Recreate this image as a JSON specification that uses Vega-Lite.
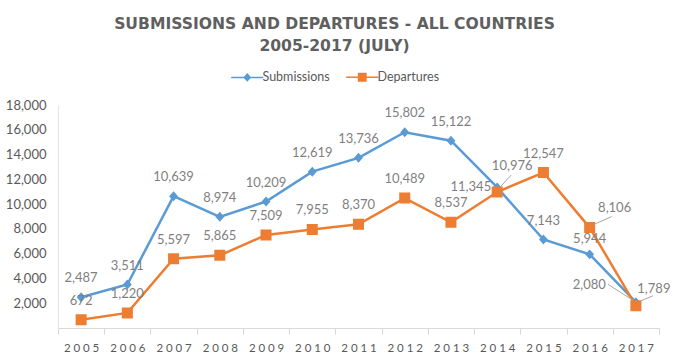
{
  "$schema": "https://vega.github.io/schema/vega-lite/v6.json",
  "width": 601,
  "height": 223,
  "autosize": {"type": "none"},
  "padding": {"left": 58, "top": 105, "right": 14, "bottom": 28},
  "background": "white",
  "title": {
    "text": ["SUBMISSIONS AND DEPARTURES - ALL COUNTRIES", "2005-2017 (JULY)"],
    "font": "DejaVu Sans",
    "fontSize": 15.6,
    "fontWeight": "bold",
    "color": "#5F5F5F",
    "lineHeight": 22.5,
    "anchor": "middle",
    "dx": -24,
    "offset": 16
  },
  "config": {
    "view": {"stroke": null},
    "legend": {
      "title": null,
      "orient": "none",
      "legendX": 183,
      "legendY": -34,
      "direction": "horizontal",
      "labelFont": "Lato",
      "labelFontSize": 12.5,
      "labelColor": "#595959",
      "symbolSize": 49,
      "labelOffset": 9,
      "columnPadding": 13
    }
  },
  "data": {
    "values": [
      {"year": "2005", "series": "Submissions", "value": 2487},
      {"year": "2006", "series": "Submissions", "value": 3511},
      {"year": "2007", "series": "Submissions", "value": 10639},
      {"year": "2008", "series": "Submissions", "value": 8974},
      {"year": "2009", "series": "Submissions", "value": 10209},
      {"year": "2010", "series": "Submissions", "value": 12619},
      {"year": "2011", "series": "Submissions", "value": 13736},
      {"year": "2012", "series": "Submissions", "value": 15802},
      {"year": "2013", "series": "Submissions", "value": 15122},
      {"year": "2014", "series": "Submissions", "value": 11345},
      {"year": "2015", "series": "Submissions", "value": 7143},
      {"year": "2016", "series": "Submissions", "value": 5944},
      {"year": "2017", "series": "Submissions", "value": 2080},
      {"year": "2005", "series": "Departures", "value": 672},
      {"year": "2006", "series": "Departures", "value": 1220},
      {"year": "2007", "series": "Departures", "value": 5597},
      {"year": "2008", "series": "Departures", "value": 5865},
      {"year": "2009", "series": "Departures", "value": 7509},
      {"year": "2010", "series": "Departures", "value": 7955},
      {"year": "2011", "series": "Departures", "value": 8370},
      {"year": "2012", "series": "Departures", "value": 10489},
      {"year": "2013", "series": "Departures", "value": 8537},
      {"year": "2014", "series": "Departures", "value": 10976},
      {"year": "2015", "series": "Departures", "value": 12547},
      {"year": "2016", "series": "Departures", "value": 8106},
      {"year": "2017", "series": "Departures", "value": 1789}
    ]
  },
  "encoding": {
    "x": {
      "field": "year",
      "type": "ordinal",
      "bandPosition": 0.5,
      "scale": {"type": "band", "paddingInner": 0, "paddingOuter": 0},
      "axis": {
        "title": null,
        "labelAngle": 0,
        "domainColor": "#D9D9D9",
        "tickColor": "#D9D9D9",
        "tickSize": 6,
        "tickBand": "extent",
        "labelFont": "Lato",
        "labelFontSize": 11.5,
        "labelColor": "#595959",
        "labelPadding": 8,
        "labelExpr": "join(split(datum.label, ''), '\u2005')"
      }
    },
    "y": {
      "field": "value",
      "type": "quantitative",
      "scale": {"domain": [0, 18000]},
      "axis": {
        "title": null,
        "grid": false,
        "ticks": false,
        "domainColor": "#E3E3E3",
        "labelPadding": 12,
        "labelFont": "Lato",
        "labelFontSize": 13,
        "labelColor": "#595959",
        "format": ",.0f",
        "values": [2000, 4000, 6000, 8000, 10000, 12000, 14000, 16000, 18000]
      }
    }
  },
  "layer": [
    {
      "mark": {"type": "line", "strokeWidth": 2.5},
      "encoding": {
        "color": {
          "field": "series",
          "type": "nominal",
          "scale": {"domain": ["Submissions", "Departures"], "range": ["#5B9BD5", "#ED7D31"]}
        }
      }
    },
    {
      "mark": {"type": "point", "filled": true, "opacity": 1, "size": 110},
      "encoding": {
        "color": {
          "field": "series",
          "type": "nominal",
          "legend": {
            "encode": {"symbols": {"update": {"stroke": {"signal": "scale('color', datum.value)"}, "strokeWidth": {"value": 2}}}}
          }
        },
        "shape": {
          "field": "series",
          "type": "nominal",
          "scale": {
            "domain": ["Submissions", "Departures"],
            "range": [
              "M-4.6,0L4.6,0M0,-0.95L0.85,0L0,0.95L-0.85,0Z",
              "M-4.6,0L4.6,0M-1.05,-1.05L1.05,-1.05L1.05,1.05L-1.05,1.05Z"
            ]
          }
        }
      }
    },
    {
      "transform": [{"filter": "indexof(['2014','2016','2017'], datum.year) < 0"}],
      "mark": {"type": "text", "font": "Lato", "fontSize": 13, "color": "#7F7F7F", "dy": -19},
      "encoding": {"text": {"field": "value", "type": "quantitative", "format": ","}}
    },
    {
      "transform": [{"filter": "datum.series == 'Submissions' && datum.year == '2014'"}],
      "mark": {"type": "text", "font": "Lato", "fontSize": 13, "color": "#7F7F7F", "align": "right", "dx": -6, "dy": 0},
      "encoding": {"text": {"field": "value", "type": "quantitative", "format": ","}}
    },
    {
      "transform": [{"filter": "datum.series == 'Submissions' && datum.year == '2016'"}],
      "mark": {"type": "text", "font": "Lato", "fontSize": 13, "color": "#7F7F7F", "dy": -15},
      "encoding": {"text": {"field": "value", "type": "quantitative", "format": ","}}
    },
    {
      "transform": [{"filter": "datum.series == 'Submissions' && datum.year == '2017'"}],
      "mark": {"type": "text", "font": "Lato", "fontSize": 13, "color": "#7F7F7F", "align": "right", "dx": -30, "dy": -17},
      "encoding": {"text": {"field": "value", "type": "quantitative", "format": ","}}
    },
    {
      "transform": [{"filter": "datum.series == 'Departures' && datum.year == '2014'"}],
      "mark": {"type": "text", "font": "Lato", "fontSize": 13, "color": "#7F7F7F", "dx": 15, "dy": -26},
      "encoding": {"text": {"field": "value", "type": "quantitative", "format": ","}}
    },
    {
      "transform": [{"filter": "datum.series == 'Departures' && datum.year == '2016'"}],
      "mark": {"type": "text", "font": "Lato", "fontSize": 13, "color": "#7F7F7F", "dx": 25, "dy": -20},
      "encoding": {"text": {"field": "value", "type": "quantitative", "format": ","}}
    },
    {
      "transform": [{"filter": "datum.series == 'Departures' && datum.year == '2017'"}],
      "mark": {"type": "text", "font": "Lato", "fontSize": 13, "color": "#7F7F7F", "dx": 18, "dy": -17},
      "encoding": {"text": {"field": "value", "type": "quantitative", "format": ","}}
    },
    {
      "transform": [{"filter": "datum.series == 'Departures' && datum.year == '2014'"}],
      "mark": {"type": "rule", "color": "#A6A6A6", "strokeWidth": 1, "xOffset": 3, "yOffset": -5, "x2Offset": 14, "y2Offset": -17},
      "encoding": {"x2": {"field": "year", "bandPosition": 0.5}, "y2": {"field": "value"}}
    },
    {
      "transform": [{"filter": "datum.series == 'Departures' && datum.year == '2016'"}],
      "mark": {"type": "rule", "color": "#A6A6A6", "strokeWidth": 1, "xOffset": 4, "yOffset": -3, "x2Offset": 22, "y2Offset": -11},
      "encoding": {"x2": {"field": "year", "bandPosition": 0.5}, "y2": {"field": "value"}}
    },
    {
      "transform": [{"filter": "datum.series == 'Submissions' && datum.year == '2017'"}],
      "mark": {"type": "rule", "color": "#A6A6A6", "strokeWidth": 1, "xOffset": -28, "yOffset": -18, "x2Offset": -3, "y2Offset": -2},
      "encoding": {"x2": {"field": "year", "bandPosition": 0.5}, "y2": {"field": "value"}}
    },
    {
      "transform": [{"filter": "datum.series == 'Departures' && datum.year == '2017'"}],
      "mark": {"type": "rule", "color": "#A6A6A6", "strokeWidth": 1, "xOffset": 5, "yOffset": -5, "x2Offset": 17, "y2Offset": -10},
      "encoding": {"x2": {"field": "year", "bandPosition": 0.5}, "y2": {"field": "value"}}
    }
  ]
}
